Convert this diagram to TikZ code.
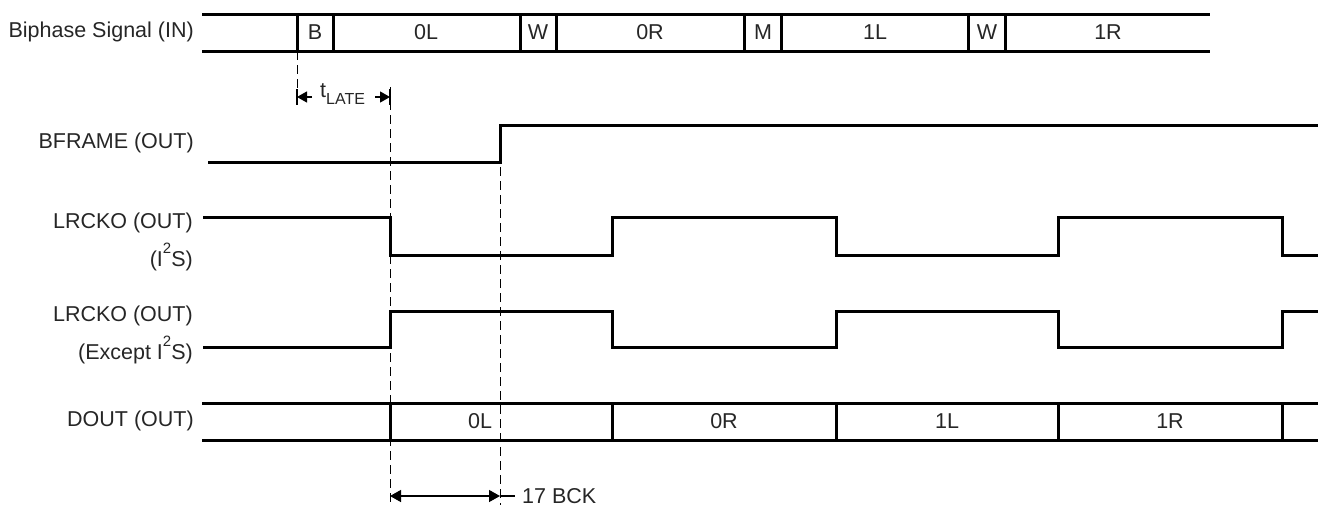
\documentclass[tikz,border=0pt]{standalone}
\usepackage{fontspec}
\setmainfont{Liberation Sans}
\usetikzlibrary{arrows.meta}
\newcommand{\suptwo}{\raisebox{0.6em}{\fontsize{15}{15}\selectfont 2}}
\begin{document}
\begin{tikzpicture}[x=1pt,y=-1pt,
  sig/.style={line width=3pt, line join=miter},
  guide/.style={line width=1pt, dash pattern=on 9pt off 5pt},
  lbl/.style={font=\fontsize{21.5}{25}\selectfont, text=black!85, anchor=east, inner sep=0pt},
  cell/.style={font=\fontsize{21.5}{25}\selectfont, text=black!85, inner sep=0pt},
  meas/.style={line width=1.3pt}]
\useasboundingbox (0,0) rectangle (1318,506);

% ---- labels ----
\node[lbl] (lbip) at (194,32) {Biphase Signal (IN)};
\node[lbl] (lbfr) at (194,143) {BFRAME (OUT)};
\node[lbl] (llr1) at (193,223) {LRCKO (OUT)};
\node[lbl] (llr1b) at (193,257) {(I\suptwo S)};
\node[lbl] (llr2) at (193,316) {LRCKO (OUT)};
\node[lbl] (llr2b) at (193,350) {(Except I\suptwo S)};
\node[lbl] (ldo) at (194,421) {DOUT (OUT)};

% ---- Biphase bus ----
\coordinate (bt0) at (202,14); \coordinate (bt1) at (1210,14);
\coordinate (bb0) at (202,51); \coordinate (bb1) at (1210,51);
\draw[sig] (bt0) -- (bt1) (bb0) -- (bb1);
\foreach \x in {297,333,520,556,744,781,968,1005}
  \draw[sig] (\x,14) -- (\x,51);
\node[cell] (cB) at (315,32) {B};
\node[cell] (c0L) at (426,32) {0L};
\node[cell] (cW1) at (538,32) {W};
\node[cell] (c0R) at (650,32) {0R};
\node[cell] (cM) at (763,32) {M};
\node[cell] (c1L) at (875,32) {1L};
\node[cell] (cW2) at (987,32) {W};
\node[cell] (c1R) at (1108,32) {1R};

% ---- BFRAME ----
\draw[sig] (208,162) -- (500,162) -- (500,125) -- (1318,125);

% ---- LRCKO I2S ----
\draw[sig] (203,217) -- (390,217) -- (390,255) -- (612,255) -- (612,217)
  -- (836,217) -- (836,255) -- (1058,255) -- (1058,217) -- (1282,217)
  -- (1282,255) -- (1318,255);

% ---- LRCKO except I2S ----
\draw[sig] (203,347) -- (390,347) -- (390,311) -- (612,311) -- (612,347)
  -- (836,347) -- (836,311) -- (1058,311) -- (1058,347) -- (1282,347)
  -- (1282,311) -- (1318,311);

% ---- DOUT bus ----
\draw[sig] (202,403) -- (1318,403) (202,440) -- (1318,440);
\foreach \x in {390,612,836,1058,1282}
  \draw[sig] (\x,403) -- (\x,440);
\node[cell] (d0L) at (480,421) {0L};
\node[cell] (d0R) at (724,421) {0R};
\node[cell] (d1L) at (947,421) {1L};
\node[cell] (d1R) at (1170,421) {1R};

% ---- guide lines ----
\coordinate (g1a) at (297,51); \coordinate (g1b) at (297,106);
\coordinate (g2a) at (390,87); \coordinate (g2b) at (390,505);
\coordinate (g3a) at (500,125); \coordinate (g3b) at (500,505);
\draw[guide] (g1a) -- (g1b);
\draw[guide] (g2a) -- (g2b);
\draw[guide] (g3a) -- (g3b);

% ---- t_LATE ----
\node[cell, anchor=west] (tlate) at (320,94) {t\raisebox{-0.3em}{\fontsize{16}{16}\selectfont LATE}};
\coordinate (tl0) at (297,97); \coordinate (tl1) at (390,97);
\coordinate (ta0) at (312,97); \coordinate (ta1) at (375,97);
\draw[meas, -{Triangle[length=10pt,width=11pt]}] (ta0) -- (tl0);
\draw[meas, -{Triangle[length=10pt,width=11pt]}] (ta1) -- (tl1);
\draw[meas] (297,89) -- (297,105);
\draw[meas] (390,89) -- (390,105);

% ---- 17 BCK ----
\coordinate (k0) at (390,496); \coordinate (k1) at (500,496);
\draw[meas, {Triangle[length=11pt,width=12pt]}-{Triangle[length=11pt,width=12pt]}] (k0) -- (k1);
\draw[meas] (k1) -- (515,496);
\node[cell, anchor=west] (bck) at (522,496) {17 BCK};
\end{tikzpicture}
\end{document}
